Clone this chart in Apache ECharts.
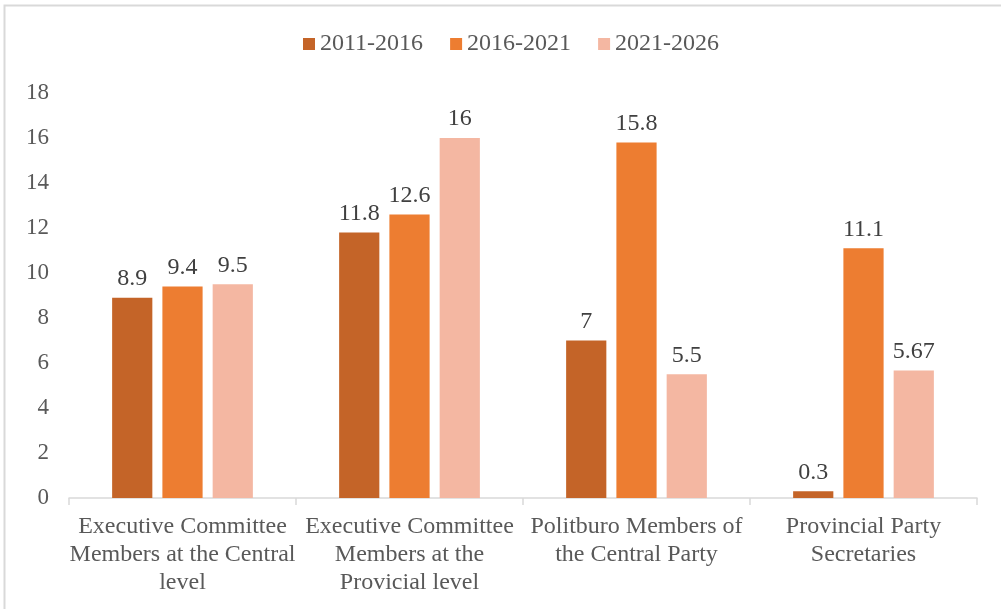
<!DOCTYPE html>
<html>
<head>
<meta charset="utf-8">
<script src="https://cdn.jsdelivr.net/npm/echarts@6/dist/echarts.min.js"></script>
<style>
  html, body { margin: 0; padding: 0; background: #fff; }
  #chart { width: 1001px; height: 609px; }
</style>
</head>
<body>
<div id="chart"></div>
<script>
// Categories along the x axis
const categories = [
  'Executive Committee\nMembers at the Central\nlevel',
  'Executive Committee\nMembers at the\nProvicial level',
  'Politburo Members of\nthe Central Party',
  'Provincial Party\nSecretaries'
];

// Series values per term
const seriesNames = ['2011-2016', '2016-2021', '2021-2026'];
const values2011 = [8.9, 11.8, 7, 0.3];
const values2016 = [9.4, 12.6, 15.8, 11.1];
const values2021 = [9.5, 16, 5.5, 5.67];

const colors = ['#C46428', '#ED7D31', '#F4B7A2'];
const font = '"Liberation Serif", "Times New Roman", serif';
const textColor = '#595959';

const chart = echarts.init(document.getElementById('chart'));

function barSeries(name, data, color) {
  return {
    name: name,
    type: 'bar',
    data: data,
    barGap: '25%',
    barCategoryGap: '38%',
    itemStyle: { color: color },
    label: {
      show: true,
      position: 'top',
      distance: 7,
      fontFamily: font,
      fontSize: 24,
      color: '#404040'
    }
  };
}

chart.setOption({
  animation: false,
  backgroundColor: '#ffffff',
  color: colors,
  graphic: [{
    type: 'rect',
    shape: { x: 4.5, y: 5.5, width: 1100, height: 700 },
    style: { fill: 'none', stroke: '#d9d9d9', lineWidth: 2 },
    silent: true,
    z: -1
  }],
  legend: {
    top: 27,
    left: 298,
    itemWidth: 12,
    itemHeight: 12,
    itemGap: 27,
    icon: 'rect',
    textStyle: { fontFamily: font, fontSize: 24, color: textColor, padding: [0, 0, 0, 0] },
    data: seriesNames
  },
  grid: { left: 69, right: 24, top: 93, bottom: 111, containLabel: false },
  xAxis: {
    type: 'category',
    data: categories,
    axisLine: { lineStyle: { color: '#d9d9d9', width: 1.5 } },
    axisTick: { show: true, length: 7, lineStyle: { color: '#d9d9d9', width: 1.5 } },
    axisLabel: {
      interval: 0,
      fontFamily: font,
      fontSize: 24,
      color: textColor,
      lineHeight: 28,
      margin: 15
    }
  },
  yAxis: {
    type: 'value',
    min: 0,
    max: 18,
    interval: 2,
    splitLine: { show: false },
    axisLine: { show: false },
    axisTick: { show: false },
    axisLabel: {
      fontFamily: font,
      fontSize: 23,
      color: textColor,
      margin: 20
    }
  },
  series: [
    barSeries(seriesNames[0], values2011, colors[0]),
    barSeries(seriesNames[1], values2016, colors[1]),
    barSeries(seriesNames[2], values2021, colors[2])
  ]
});
</script>
</body>
</html>
